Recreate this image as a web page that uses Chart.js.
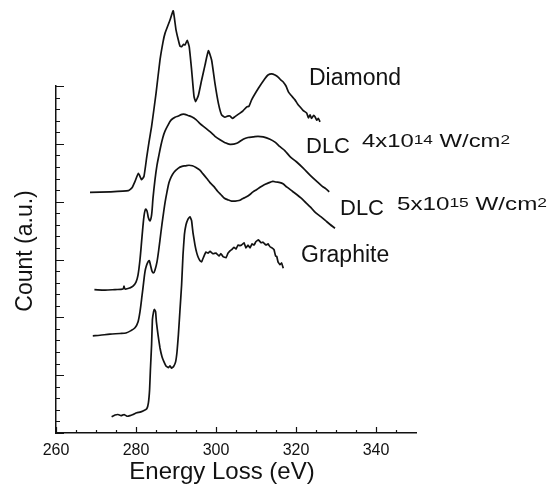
<!DOCTYPE html>
<html>
<head>
<meta charset="utf-8">
<script src="https://cdn.jsdelivr.net/npm/chart.js@4"></script>
<style>
  html, body { margin: 0; padding: 0; background: #fff; }
  #spectra { display: block; }
</style>
</head>
<body>
<canvas id="spectra" width="554" height="484"></canvas>
<script>
// --- EELS carbon K-edge spectra (counts are arbitrary units) ---
const xTickValues = [260, 280, 300, 320, 340];

const diamondE = [
  268.5, 273.5, 278.1, 279.0, 279.75, 280.6, 281.4, 282.0, 282.7, 283.25,
  283.9, 285.0, 286.0, 286.75, 287.25, 288.5, 289.3, 290.0, 290.6, 291.0,
  291.4, 291.9, 292.25, 292.8, 293.3, 293.9, 294.5, 294.9, 295.6, 296.4,
  297.25, 298.1, 298.9, 299.75, 300.6, 301.4, 302.25, 302.9, 303.5, 304.1,
  304.75, 306.0, 306.75, 307.7, 308.25, 308.9, 310.6, 312.25, 313.0, 313.9,
  314.75, 315.6, 316.25, 316.8, 317.5, 318.1, 318.75, 319.75, 320.4, 321.0,
  321.75, 322.7, 323.1, 323.5, 323.9, 324.4, 324.75, 325.2, 325.6, 326.0
];
const diamondCount = [
  4.16, 4.17, 4.19, 4.24, 4.35, 4.49, 4.38, 4.44, 4.78, 5.03,
  5.30, 5.87, 6.45, 6.76, 6.91, 7.14, 7.30, 6.97, 6.79, 6.69,
  6.68, 6.72, 6.71, 6.79, 6.68, 6.28, 5.82, 5.73, 5.84, 6.10,
  6.36, 6.61, 6.45, 6.04, 5.70, 5.50, 5.46, 5.48, 5.48, 5.44,
  5.47, 5.53, 5.57, 5.64, 5.65, 5.76, 5.96, 6.13, 6.19, 6.21,
  6.19, 6.15, 6.10, 6.07, 6.00, 5.90, 5.84, 5.76, 5.69, 5.64,
  5.58, 5.53, 5.45, 5.50, 5.44, 5.49, 5.47, 5.41, 5.44, 5.38
];

const dlc14E = [
  269.6, 272.25, 274.75, 276.75, 277.0, 277.25, 278.5, 279.25, 280.0, 280.5,
  281.0, 281.5, 282.0, 282.4, 282.75, 283.1, 283.5, 283.9, 284.25, 284.75,
  285.25, 285.75, 286.25, 286.75, 287.25, 287.9, 288.75, 289.75, 290.6, 291.5,
  292.25, 293.0, 293.9, 295.0, 296.0, 297.25, 298.5, 299.75, 301.0, 302.25,
  303.5, 305.2, 306.8, 308.0, 309.3, 310.5, 311.8, 313.5, 314.75, 316.0,
  317.25, 318.5, 320.1, 321.8, 323.5, 325.2, 326.5, 327.5, 328.3
];
const dlc14Count = [
  2.48, 2.47, 2.48, 2.49, 2.54, 2.49, 2.51, 2.54, 2.61, 2.73,
  3.00, 3.39, 3.75, 3.87, 3.84, 3.72, 3.67, 3.77, 4.06, 4.38,
  4.63, 4.81, 4.98, 5.12, 5.22, 5.31, 5.41, 5.46, 5.48, 5.51,
  5.51, 5.49, 5.47, 5.42, 5.35, 5.28, 5.21, 5.13, 5.07, 5.02,
  4.99, 5.01, 5.08, 5.11, 5.12, 5.13, 5.12, 5.08, 5.03, 4.95,
  4.88, 4.78, 4.69, 4.58, 4.46, 4.35, 4.27, 4.22, 4.17
];

const dlc15E = [
  269.2, 271.0, 273.5, 276.0, 277.5, 278.75, 279.75, 280.5, 281.0, 281.5,
  281.9, 282.25, 282.6, 283.0, 283.3, 283.6, 284.0, 284.4, 284.75, 285.25,
  285.75, 286.25, 286.75, 287.25, 287.75, 288.25, 288.8, 289.5, 290.6, 291.5,
  292.35, 293.25, 294.1, 295.0, 295.9, 296.75, 297.7, 298.5, 299.5, 300.4,
  301.25, 302.1, 303.05, 303.9, 304.8, 305.75, 306.6, 307.5, 308.4, 309.25,
  310.2, 311.0, 311.95, 313.0, 314.2, 315.0, 316.0, 316.75, 317.75, 319.1,
  320.25, 321.3, 322.5, 323.55, 324.75, 326.2, 327.25, 328.45, 329.75
];
const dlc15Count = [
  1.68, 1.69, 1.71, 1.72, 1.73, 1.77, 1.82, 1.92, 2.10, 2.37,
  2.60, 2.79, 2.89, 2.96, 2.98, 2.91, 2.80, 2.77, 2.82, 2.96,
  3.20, 3.48, 3.74, 3.98, 4.17, 4.33, 4.43, 4.51, 4.58, 4.61,
  4.62, 4.63, 4.62, 4.59, 4.55, 4.48, 4.40, 4.33, 4.26, 4.18,
  4.12, 4.06, 4.03, 4.01, 4.01, 4.02, 4.05, 4.08, 4.12, 4.17,
  4.21, 4.25, 4.29, 4.32, 4.35, 4.34, 4.33, 4.31, 4.25, 4.18,
  4.12, 4.06, 3.98, 3.91, 3.82, 3.74, 3.68, 3.61, 3.54
];

const graphiteE = [
  273.9, 274.75, 275.5, 276.25, 277.0, 277.75, 278.5, 279.25, 280.2, 281.0,
  281.75, 282.7, 283.1, 283.4, 283.6, 283.9, 284.1, 284.4, 284.6, 284.9,
  285.1, 285.5, 286.0, 286.5, 287.0, 287.5, 288.1, 288.5, 288.9, 289.4,
  289.9, 290.25, 290.6, 291.0, 291.4, 291.75, 292.1, 292.5, 293.0, 293.5,
  293.9, 294.25, 294.75, 295.2, 295.6, 296.0, 296.4, 297.0, 297.5, 298.0,
  298.5, 299.25, 300.0, 300.75, 301.25, 301.75, 302.5, 303.0, 303.5, 303.9,
  304.5, 305.0, 305.5, 306.0, 306.4, 307.0, 307.5, 308.0, 308.5, 309.0,
  309.5, 310.0, 310.6, 311.25, 311.75, 312.5, 313.0, 313.5, 314.0, 314.5,
  314.9, 315.2, 315.5, 316.0, 316.4, 316.8
];
const graphiteCount = [
  0.28, 0.31, 0.32, 0.30, 0.32, 0.29, 0.30, 0.32, 0.35, 0.36,
  0.38, 0.42, 0.52, 0.75, 1.09, 1.53, 1.96, 2.10, 2.14, 2.10,
  1.92, 1.70, 1.47, 1.32, 1.23, 1.16, 1.13, 1.16, 1.12, 1.15,
  1.23, 1.40, 1.70, 2.13, 2.56, 3.08, 3.43, 3.60, 3.70, 3.74,
  3.67, 3.46, 3.25, 3.11, 3.03, 2.98, 2.96, 3.06, 3.13, 3.11,
  3.14, 3.10, 3.11, 3.06, 3.10, 3.05, 3.03, 3.11, 3.15, 3.17,
  3.21, 3.18, 3.25, 3.24, 3.25, 3.29, 3.20, 3.25, 3.20, 3.27,
  3.25, 3.31, 3.34, 3.29, 3.30, 3.25, 3.27, 3.22, 3.20, 3.17,
  3.06, 3.05, 2.96, 2.91, 2.94, 2.85
];

const INK = '#121212';
const FONT = '"Liberation Sans", Arial, Helvetica, sans-serif';

function toPoints(energies, counts) {
  return energies.map((e, i) => ({ x: e, y: counts[i] }));
}

function spectrum(label, energies, counts, tension) {
  return {
    label,
    data: toPoints(energies, counts),
    borderColor: INK,
    borderWidth: 1.7,
    pointRadius: 0,
    tension,
    clip: false
  };
}

// --- inward tick marks on both axes (major + minor) ---
const innerTicks = {
  id: 'innerTicks',
  afterDraw(chart) {
    const { ctx, scales: { x, y } } = chart;
    const base = y.getPixelForValue(0);
    const left = x.getPixelForValue(260);
    ctx.save();
    ctx.strokeStyle = INK;
    ctx.lineWidth = 1.2;
    ctx.beginPath();
    for (let i = 0; i <= 17; i++) {
      const v = 260 + i * 5;
      const px = Math.round(x.getPixelForValue(v)) + 0.5;
      const len = v % 20 === 0 ? 6 : 3;
      ctx.moveTo(px, base);
      ctx.lineTo(px, base - len);
    }
    for (let i = 0; i <= 30; i++) {
      const py = Math.round(y.getPixelForValue(i / 5)) + 0.5;
      const len = i % 5 === 0 ? 8 : 4;
      ctx.moveTo(left, py);
      ctx.lineTo(left + len, py);
    }
    ctx.stroke();
    ctx.restore();
  }
};

// "4x10^14 W/cm^2" style label, stretched to the width it has in the figure
function drawPower(ctx, x, y, width, base, exp) {
  const parts = [[base, 18, 0], [exp, 13, 3], [' W/cm', 18, 0], ['2', 13, 3]];
  let natural = 0;
  parts.forEach(([t, s]) => { ctx.font = s + 'px ' + FONT; natural += ctx.measureText(t).width; });
  ctx.save();
  ctx.translate(x, y);
  ctx.scale(width / natural, 1);
  let cx = 0;
  parts.forEach(([t, s, rise]) => {
    ctx.font = s + 'px ' + FONT;
    ctx.fillText(t, cx, -rise);
    cx += ctx.measureText(t).width;
  });
  ctx.restore();
}

// curve names + axis titles, placed where the figure has them
const figureText = {
  id: 'figureText',
  afterDraw(chart) {
    const ctx = chart.ctx;
    ctx.save();
    ctx.fillStyle = INK;
    ctx.textBaseline = 'alphabetic';
    ctx.textAlign = 'left';
    ctx.font = '23px ' + FONT;
    ctx.fillText('Diamond', 309, 85);
    ctx.fillText('Graphite', 301, 262);
    ctx.font = '22px ' + FONT;
    ctx.fillText('DLC', 306, 153);
    ctx.fillText('DLC', 340, 215);
    drawPower(ctx, 362, 147, 148, '4x10', '14');
    drawPower(ctx, 397, 210, 150, '5x10', '15');

    ctx.textAlign = 'center';
    ctx.textBaseline = 'middle';
    ctx.font = '24px ' + FONT;
    ctx.fillText('Energy Loss (eV)', 222, 472);
    ctx.translate(26, 251);
    ctx.rotate(-Math.PI / 2);
    ctx.font = '23px ' + FONT;
    ctx.fillText('Count (a.u.)', 0, 0);
    ctx.restore();
  }
};

new Chart(document.getElementById('spectra'), {
  type: 'line',
  data: {
    datasets: [
      spectrum('Diamond', diamondE, diamondCount, 0.15),
      spectrum('DLC 4x10^14 W/cm^2', dlc14E, dlc14Count, 0.3),
      spectrum('DLC 5x10^15 W/cm^2', dlc15E, dlc15Count, 0.3),
      spectrum('Graphite', graphiteE, graphiteCount, 0.1)
    ]
  },
  options: {
    responsive: false,
    devicePixelRatio: 1,
    animation: false,
    layout: { padding: { top: 86, right: 138, bottom: 0, left: 0 } },
    plugins: { legend: { display: false }, tooltip: { enabled: false } },
    scales: {
      x: {
        type: 'linear',
        min: 260,
        max: 350,
        afterBuildTicks: scale => { scale.ticks = xTickValues.map(v => ({ value: v })); },
        afterFit: scale => { scale.height = 51; },
        grid: { display: false, drawTicks: false },
        border: { display: true, color: INK, width: 1.5 },
        ticks: { color: INK, padding: 8, maxRotation: 0, autoSkip: false, font: { family: FONT, size: 16 } }
      },
      y: {
        min: 0,
        max: 6,
        afterFit: scale => { scale.width = 56; },
        grid: { display: false, drawTicks: false },
        border: { display: true, color: INK, width: 1.5 },
        ticks: { display: false }
      }
    }
  },
  plugins: [innerTicks, figureText]
});
</script>
</body>
</html>
